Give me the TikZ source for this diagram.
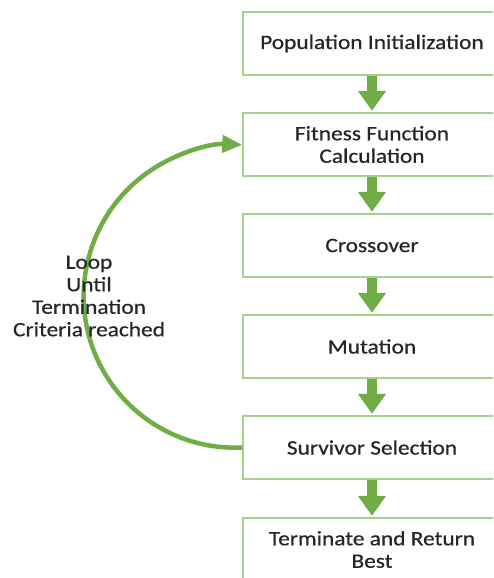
\documentclass[tikz,border=0pt]{standalone}
\usepackage{fontspec}
\setmainfont{Carlito}[FakeStretch=1.14,FakeBold=0.6]
\usetikzlibrary{arrows.meta}
\definecolor{flowgreen}{HTML}{70AD47}
\definecolor{boxline}{HTML}{A9D18E}
\definecolor{ink}{HTML}{262626}
\begin{document}
\begin{tikzpicture}[x=1pt,y=-1pt,
  stage/.style={draw=boxline, line width=1.5pt, fill=white,
    minimum width=258pt, minimum height=63pt, inner sep=0pt,
    align=center, text=ink, font=\fontsize{20.5}{22.5}\selectfont},
  flow/.style={draw=flowgreen, line width=10pt,
    -{Triangle[width=27pt,length=20pt]}, shorten >=1.5pt},
  loopback/.style={draw=flowgreen, line width=4.5pt,
    -{Triangle[width=17pt,length=20pt]}},
  note/.style={align=center, text=ink, font=\fontsize{20.5}{22.5}\selectfont}]
\useasboundingbox (0,0) rectangle (493,578);
\begin{scope}
\clip (0,0) rectangle (493,578);
% process stages
\node[stage] (init) at (372,43.5) {Population Initialization};
\node[stage] (fit)  at (372,144.5) {Fitness Function\\Calculation};
\node[stage] (cross) at (372,245.5) {Crossover};
\node[stage] (mut)  at (372,346.5) {Mutation};
\node[stage] (surv) at (372,447.5) {Survivor Selection};
\node[stage] (term) at (372,549.5) {Terminate and Return\\Best};
% forward flow
\draw[flow] (init.south) -- (fit.north);
\draw[flow] (fit.south) -- (cross.north);
\draw[flow] (cross.south) -- (mut.north);
\draw[flow] (mut.south) -- (surv.north);
\draw[flow] (surv.south) -- (term.north);
% loop back to fitness evaluation: a circular arc round the left side
\draw[loopback] (surv.west) arc[start angle=87.3, end angle=272.7, radius=151.5];
\node[note] (loopnote) at (89,296) {Loop\\Until\\Termination\\Criteria reached};
\end{scope}
\end{tikzpicture}
\end{document}
